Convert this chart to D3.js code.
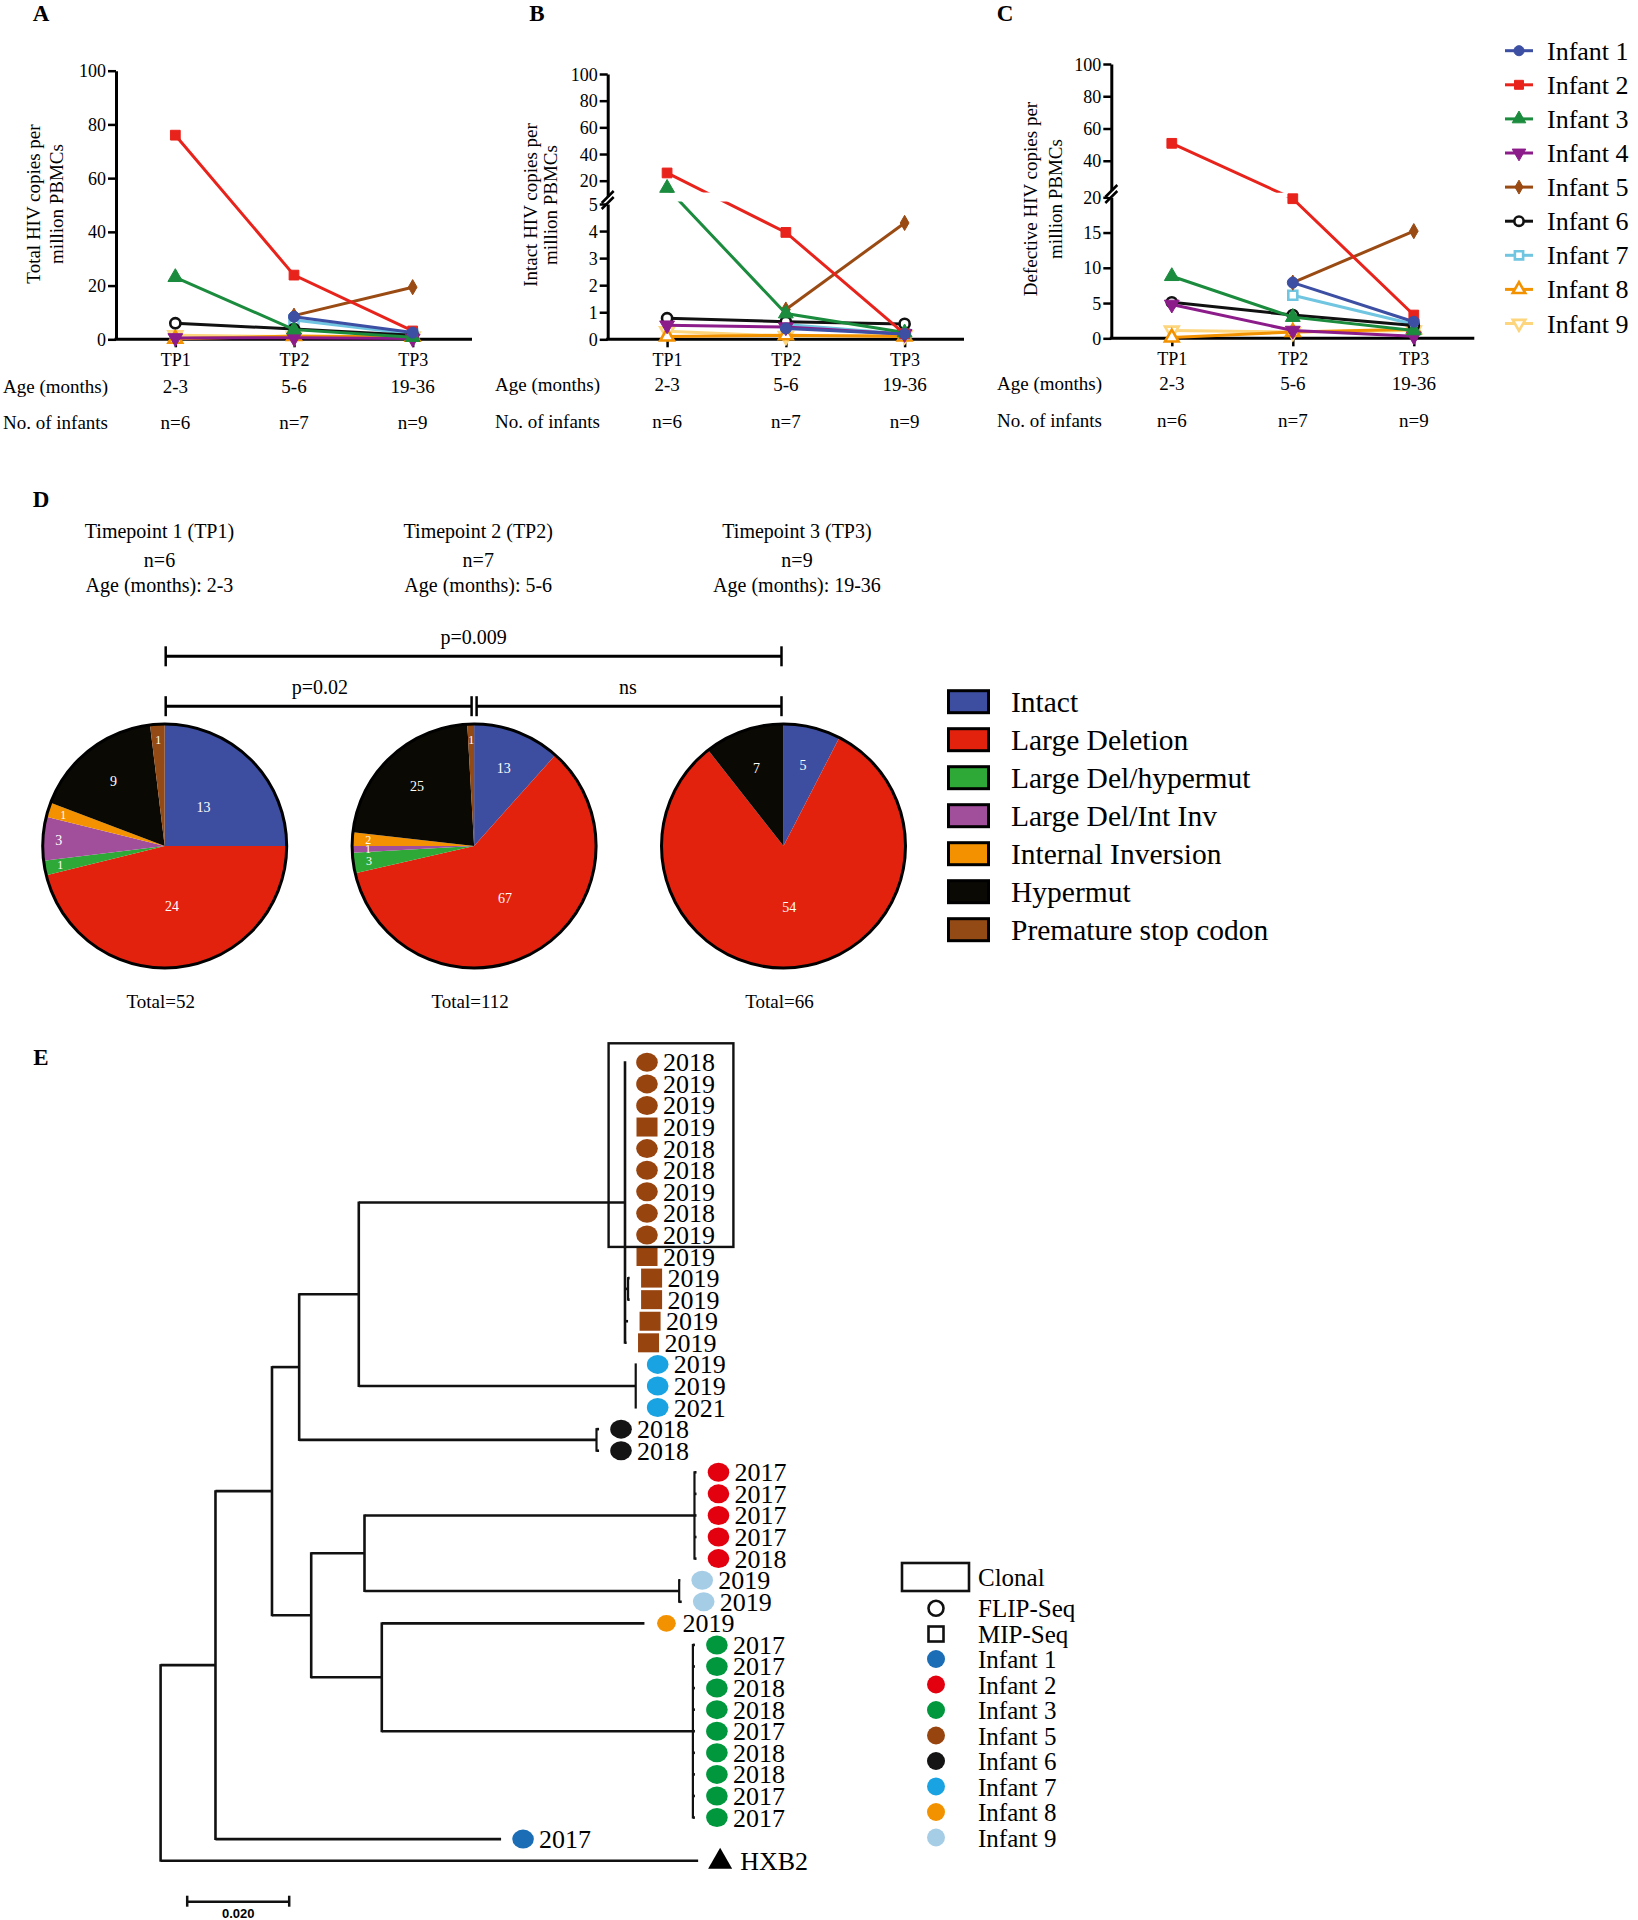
<!DOCTYPE html>
<html><head><meta charset="utf-8">
<script src="https://cdn.jsdelivr.net/npm/d3@7"></script>
<style>
body{margin:0;background:#fff}
svg{display:block}
text{font-family:"Liberation Serif","Times New Roman",serif;fill:#000}
</style>
</head><body>
<svg id="c" width="1638" height="1920"></svg>
<script>
// ---------------- DATA ----------------
const timepoints = ["TP1", "TP2", "TP3"];
const ageRanges = ["2-3", "5-6", "19-36"];
const infantCounts = ["n=6", "n=7", "n=9"];
const infants = ["Infant 1","Infant 2","Infant 3","Infant 4","Infant 5","Infant 6","Infant 7","Infant 8","Infant 9"];
const lineColors = ["#3c4fa3","#e8231c","#1b8b3d","#8c1c8a","#9a4a13","#111111","#70c5e0","#f39200","#fcd57d"];
const lineSymbols = ["circle","square","triangle","triangleDown","diamond","circle","square","triangle","triangleDown"];
const lineSymbolOpen = [false,false,false,false,false,true,true,true,true];
// copies per million PBMCs, [TP1, TP2, TP3]; null = not sampled
const totalCopies = [
  [null, 8.4, 2.5],
  [76.0, 23.9, 3.1],
  [23.1, 3.6, 0.8],
  [0.5, 0.6, 0.3],
  [null, 8.8, 19.4],
  [6.0, 3.8, 1.5],
  [null, 7.2, 2.0],
  [0.2, 1.2, 0.9],
  [1.5, 1.0, 1.0]
];
const intactCopies = [
  [null, 0.4, 0.2],
  [25.8, 3.95, 0.2],
  [14.5, 0.95, 0.25],
  [0.52, 0.45, 0.2],
  [null, 1.1, 4.3],
  [0.78, 0.65, 0.57],
  [null, 0.55, 0.2],
  [0.1, 0.15, 0.1],
  [0.3, 0.12, 0.15]
];
const defectiveCopies = [
  [null, 7.9, 2.35],
  [50.8, 19.8, 3.3],
  [8.8, 3.0, 1.1],
  [4.8, 1.1, 0.3],
  [null, 7.9, 15.2],
  [5.1, 3.3, 1.8],
  [null, 6.1, 2.0],
  [0.1, 0.9, 1.3],
  [1.1, 0.9, 1.1]
];
const totalTicks = [0, 20, 40, 60, 80, 100];
const intactTicksLow = [0, 1, 2, 3, 4, 5];
const intactTicksHigh = [20, 40, 60, 80, 100];
const defectiveTicksLow = [0, 5, 10, 15, 20];
const defectiveTicksHigh = [40, 60, 80, 100];

// Panel D
const pieCategories = ["Intact","Large Deletion","Large Del/hypermut","Large Del/Int Inv","Internal Inversion","Hypermut","Premature stop codon"];
const pieColors = ["#3d4ea0","#e3220e","#2ea836","#a24f9b","#f39100","#0b0904","#944a14"];
const tp1Counts = [13, 24, 1, 3, 1, 9, 1];
const tp2Counts = [13, 67, 3, 1, 2, 25, 1];
const tp3Counts = [5, 54, 0, 0, 0, 7, 0];
const pieTitles = ["Timepoint 1 (TP1)", "Timepoint 2 (TP2)", "Timepoint 3 (TP3)"];
const pieN = ["n=6", "n=7", "n=9"];
const pieAges = ["Age (months): 2-3", "Age (months): 5-6", "Age (months): 19-36"];
const pieTotals = ["Total=52", "Total=112", "Total=66"];
const pValues = ["p=0.009", "p=0.02", "ns"];

// Panel E (phylogenetic tree, branch lengths in substitutions/site)
const treeNewick = "((((((L0:0,L1:0,L2:0,L3:0,L4:0,L5:0,L6:0,L7:0,L8:0,L9:0,(L10:0.0003,L11:0.0003):0.0006,L12:0.0006,L13:0.0003):0.0522,(L14:0,L15:0,L16:0):0.0543):0.01169,(L17:0.0005,L18:0.0005):0.0583):0.00533,(((L19:0.0004,L20:0.0004,L21:0.0004,L22:0.0004,L23:0.0004):0.0647,(L24:0.0002,L25:0.0005):0.0617):0.01045,(L26:0.0515,(L27:0.0004,L28:0.0004,L29:0.0004,L30:0.0004,L31:0.0004,L32:0.0004,L33:0.0004,L34:0.0004,L35:0.0004):0.0610):0.01384):0.00769):0.01108,L36:0.0560):0.01076,L37:0.1054);";
const leafInfant = [
  "Infant 5","Infant 5","Infant 5","Infant 5","Infant 5","Infant 5","Infant 5","Infant 5","Infant 5","Infant 5","Infant 5","Infant 5","Infant 5","Infant 5",
  "Infant 7","Infant 7","Infant 7",
  "Infant 6","Infant 6",
  "Infant 2","Infant 2","Infant 2","Infant 2","Infant 2",
  "Infant 9","Infant 9",
  "Infant 8",
  "Infant 3","Infant 3","Infant 3","Infant 3","Infant 3","Infant 3","Infant 3","Infant 3","Infant 3",
  "Infant 1",
  "HXB2"
];
const leafMethod = [
  "FLIP","FLIP","FLIP","MIP","FLIP","FLIP","FLIP","FLIP","FLIP","MIP","MIP","MIP","MIP","MIP",
  "FLIP","FLIP","FLIP","FLIP","FLIP","FLIP","FLIP","FLIP","FLIP","FLIP","FLIP","FLIP","FLIP",
  "FLIP","FLIP","FLIP","FLIP","FLIP","FLIP","FLIP","FLIP","FLIP","FLIP","REF"
];
const leafYear = [
  "2018","2019","2019","2019","2018","2018","2019","2018","2019","2019","2019","2019","2019","2019",
  "2019","2019","2021",
  "2018","2018",
  "2017","2017","2017","2017","2018",
  "2019","2019",
  "2019",
  "2017","2017","2018","2018","2017","2018","2018","2017","2017",
  "2017",
  "HXB2"
];
const treeInfants = ["Infant 1","Infant 2","Infant 3","Infant 5","Infant 6","Infant 7","Infant 8","Infant 9"];
const treeColors = ["#1b6db6","#e3000f","#00973d","#97440f","#141414","#1aa3e2","#f39200","#a6cde6"];
const clonalRows = [0, 8];
const scaleBarValue = 0.020;

// ---------------- DRAW ----------------
const svg = d3.select("#c");
svg.append("rect").attr("width", 1638).attr("height", 1920).attr("fill", "#fff");
const defs = svg.append("defs");

function panelLabel(t, x, y) {
  svg.append("text").attr("x", x).attr("y", y).attr("text-anchor", "middle")
    .style("font-size", "23px").style("font-weight", "bold").text(t);
}

function marker(g, x, y, i, size) {
  const types = {circle: d3.symbolCircle, square: d3.symbolSquare, triangle: d3.symbolTriangle, triangleDown: d3.symbolTriangle, diamond: d3.symbolDiamond};
  const kind = lineSymbols[i];
  const open = lineSymbolOpen[i];
  let s = size;
  if (kind === "diamond") s = size * 0.7;
  if (open) s = size * 0.85;
  g.append("path")
    .attr("d", d3.symbol(types[kind], s)())
    .attr("transform", `translate(${x},${y})` + (kind === "triangleDown" ? " rotate(180)" : ""))
    .attr("fill", open ? "#fff" : lineColors[i])
    .attr("stroke", lineColors[i])
    .attr("stroke-width", open ? 2.6 : 1);
}

function linePanel(o) {
  const g = svg.append("g");
  const x = d3.scalePoint().domain(timepoints).range([o.ax, o.axEnd]).padding(0.5);
  const segs = o.segments.map(s => Object.assign({}, s, {sc: d3.scaleLinear().domain(s.domain).range(s.range)}));
  const y = v => {
    for (const s of segs) if (v >= s.domain[0] && v <= s.domain[1]) return s.sc(v);
    return segs[segs.length - 1].sc(v);
  };
  // axes
  segs.forEach(s => {
    const a = g.append("g").attr("transform", `translate(${o.ax},0)`)
      .call(d3.axisLeft(s.sc).tickValues(s.ticks).tickFormat(d3.format("d")).tickSize(8).tickSizeOuter(0).tickPadding(2));
    a.select(".domain").attr("stroke-width", 3);
    a.selectAll(".tick line").attr("stroke-width", 2.5);
    a.selectAll("text").style("font-size", "18px").attr("dy", "0.34em");
  });
  if (o.breakY) {
    const b = g.append("g");
    b.append("rect").attr("x", o.ax - 3).attr("y", o.breakY - 3).attr("width", 6).attr("height", 6).attr("fill", "#fff");
    [-3, 3].forEach(d => b.append("line")
      .attr("x1", o.ax - 6).attr("y1", o.breakY + d + 6).attr("x2", o.ax + 6).attr("y2", o.breakY + d - 6)
      .attr("stroke", "#000").attr("stroke-width", 2.5));
  }
  const xa = g.append("g").attr("transform", `translate(0,${o.y0})`)
    .call(d3.axisBottom(x).tickSize(8).tickSizeOuter(0).tickPadding(6));
  xa.select(".domain").attr("stroke-width", 3).attr("d", `M${o.ax - 1.5},0H${o.axEnd}`);
  xa.selectAll(".tick line").attr("stroke-width", 2.5);
  xa.selectAll("text").style("font-size", "18px");

  // y title
  const yt = g.append("text").attr("transform", `translate(${o.titleX[0]},${o.titleCY}) rotate(-90)`)
    .attr("text-anchor", "middle").style("font-size", "19px");
  yt.append("tspan").attr("x", 0).attr("y", 0).attr("dy", "0.35em").text(o.title[0]);
  yt.append("tspan").attr("x", 0).attr("y", o.titleX[1] - o.titleX[0]).attr("dy", "0.35em").text(o.title[1]);

  // rows under axis
  g.append("text").attr("x", o.rowX).attr("y", o.rowY[0] + 6).style("font-size", "19px").text("Age (months)");
  g.append("text").attr("x", o.rowX).attr("y", o.rowY[1] + 6).style("font-size", "19px").text("No. of infants");
  timepoints.forEach((tp, j) => {
    g.append("text").attr("x", x(tp)).attr("y", o.rowY[0] + 6).attr("text-anchor", "middle").style("font-size", "19px").text(ageRanges[j]);
    g.append("text").attr("x", x(tp)).attr("y", o.rowY[1] + 6).attr("text-anchor", "middle").style("font-size", "19px").text(infantCounts[j]);
  });

  // clip regions (break gap)
  const clipNames = [];
  const bands = o.gap ? [[0, o.gap[0]], [o.gap[1], 500]] : [[0, 500]];
  bands.forEach((b, k) => {
    const id = o.id + "clip" + k;
    defs.append("clipPath").attr("id", id).append("rect").attr("x", 0).attr("y", b[0]).attr("width", 1638).attr("height", b[1] - b[0]);
    clipNames.push(id);
  });

  const order = d3.range(infants.length).reverse();
  order.forEach(i => {
    const pts = o.values[i].map((v, j) => v == null ? null : [x(timepoints[j]), y(v)]).filter(Boolean);
    clipNames.forEach(c => g.append("path").attr("d", d3.line()(pts)).attr("clip-path", `url(#${c})`)
      .attr("fill", "none").attr("stroke", lineColors[i]).attr("stroke-width", 3));
    pts.forEach(p => marker(g, p[0], p[1], i, 95));
  });
}

// Panel A
linePanel({
  id: "A", values: totalCopies, ax: 116, axEnd: 472, y0: 339.3,
  segments: [{domain: [0, 100], range: [339.3, 70.7], ticks: totalTicks}],
  title: ["Total HIV copies per", "million PBMCs"], titleX: [33, 56.5], titleCY: 204,
  rowX: 3, rowY: [387, 423]
});
// Panel B
linePanel({
  id: "B", values: intactCopies, ax: 607.7, axEnd: 964, y0: 339.3,
  segments: [{domain: [0, 5], range: [339.3, 204], ticks: intactTicksLow},
             {domain: [5, 100], range: [200.7, 74], ticks: intactTicksHigh}],
  gap: [192.5, 201.5], breakY: 200,
  title: ["Intact HIV copies per", "million PBMCs"], titleX: [530, 550.5], titleCY: 205,
  rowX: 495, rowY: [385, 421.5]
});
// Panel C
linePanel({
  id: "C", values: defectiveCopies, ax: 1111.3, axEnd: 1474.3, y0: 338.3,
  segments: [{domain: [0, 20], range: [338.3, 197.3], ticks: defectiveTicksLow},
             {domain: [20, 100], range: [193, 64], ticks: defectiveTicksHigh}],
  gap: [192.8, 197.6], breakY: 194,
  title: ["Defective HIV copies per", "million PBMCs"], titleX: [1030, 1055], titleCY: 199,
  rowX: 997, rowY: [384, 420.5]
});
panelLabel("A", 41, 21);
panelLabel("B", 537, 21);
panelLabel("C", 1005, 21);

// Legend for A-C
(function () {
  const g = svg.append("g");
  infants.forEach((n, i) => {
    const yy = 50.7 + i * 34.1;
    g.append("line").attr("x1", 1505).attr("x2", 1533).attr("y1", yy).attr("y2", yy)
      .attr("stroke", lineColors[i]).attr("stroke-width", 3);
    marker(g, 1519, yy, i, 80);
    g.append("text").attr("x", 1547).attr("y", yy + 9).style("font-size", "26px").text(n);
  });
})();

// ---------------- Panel D ----------------
panelLabel("D", 41, 507);
(function () {
  const g = svg.append("g");
  const counts = [tp1Counts, tp2Counts, tp3Counts];
  const pieX = d3.scalePoint().domain(pieTitles).range([164.7, 783.5]);
  const titleX = d3.scalePoint().domain(pieTitles).range([159.5, 797]);
  const cy = 846, R = 122;
  pieTitles.forEach((t, k) => {
    const tx = titleX(t);
    g.append("text").attr("x", tx).attr("y", 538).attr("text-anchor", "middle").style("font-size", "20px").text(t);
    g.append("text").attr("x", tx).attr("y", 567).attr("text-anchor", "middle").style("font-size", "20px").text(pieN[k]);
    g.append("text").attr("x", tx).attr("y", 592).attr("text-anchor", "middle").style("font-size", "20px").text(pieAges[k]);
    g.append("text").attr("x", pieX(t) - 4).attr("y", 1008).attr("text-anchor", "middle").style("font-size", "19px").text(pieTotals[k]);

    const arcs = d3.pie().sort(null)(counts[k]);
    const total = d3.sum(counts[k]);
    const pg = g.append("g").attr("transform", `translate(${pieX(t)},${cy})`);
    const arc = d3.arc().innerRadius(0).outerRadius(R);
    pg.selectAll("path.s").data(arcs).enter().append("path").attr("class", "s")
      .attr("d", arc).attr("fill", (d, i) => pieColors[i]);
    pg.append("circle").attr("r", R).attr("fill", "none").attr("stroke", "#000").attr("stroke-width", 3);
    arcs.forEach((d, i) => {
      if (!d.value) return;
      const f = d.value / total;
      const rr = f >= 0.45 ? 0.5 * R : f >= 0.24 ? 0.45 * R : f >= 0.07 ? 0.68 * R : 0.87 * R;
      const c = d3.arc().innerRadius(rr).outerRadius(rr).centroid(d);
      pg.append("text").attr("x", c[0]).attr("y", c[1]).attr("dy", "0.35em").attr("text-anchor", "middle")
        .style("font-size", f < 0.03 ? "12px" : "14px").style("fill", "#fff").text(d.value);
    });
  });
  // significance brackets
  const x1 = pieX(pieTitles[0]) + 1, x2 = pieX(pieTitles[1]), x3 = pieX(pieTitles[2]) - 2;
  const bracket = (a, b, yy, label, lx) => {
    g.append("line").attr("x1", a).attr("x2", b).attr("y1", yy).attr("y2", yy).attr("stroke", "#000").attr("stroke-width", 3);
    [a, b].forEach(v => g.append("line").attr("x1", v).attr("x2", v).attr("y1", yy - 10).attr("y2", yy + 10).attr("stroke", "#000").attr("stroke-width", 2.5));
    g.append("text").attr("x", lx).attr("y", yy - 12).attr("text-anchor", "middle").style("font-size", "20px").text(label);
  };
  bracket(x1, x3, 656.3, pValues[0], (x1 + x3) / 2);
  bracket(x1, x2 - 2.5, 706.2, pValues[1], (x1 + x2) / 2);
  bracket(x2 + 2.5, x3, 706.2, pValues[2], (x2 + x3) / 2);

  // legend
  pieCategories.forEach((c, i) => {
    const yy = 701.7 + i * 38;
    g.append("rect").attr("x", 948.5).attr("y", yy - 11).attr("width", 40).attr("height", 22)
      .attr("fill", pieColors[i]).attr("stroke", "#000").attr("stroke-width", 3);
    g.append("text").attr("x", 1011).attr("y", yy + 10).style("font-size", "29.5px").text(c);
  });
})();

// ---------------- Panel E ----------------
panelLabel("E", 41, 1065);
function parseNewick(s) {
  let i = 0;
  function node() {
    const n = {name: "", len: 0, children: []};
    if (s[i] === "(") {
      i++;
      n.children.push(node());
      while (s[i] === ",") { i++; n.children.push(node()); }
      i++;
    }
    let name = "";
    while (i < s.length && !",():;".includes(s[i])) name += s[i++];
    n.name = name;
    if (s[i] === ":") {
      i++;
      let num = "";
      while (i < s.length && !",();".includes(s[i])) num += s[i++];
      n.len = +num;
    }
    if (!n.children.length) delete n.children;
    return n;
  }
  return node();
}
(function () {
  const g = svg.append("g");
  const root = d3.hierarchy(parseNewick(treeNewick));
  const xs = d3.scaleLinear().domain([0, scaleBarValue]).range([160.6, 262.6]);
  const leaves = root.leaves();
  const ys = d3.scaleLinear().domain([0, leaves.length - 1]).range([1062.3, 1860.7]);
  root.each(d => { d.dist = (d.parent ? d.parent.dist : 0) + (d.parent ? d.data.len : 0); d.px = xs(d.dist); });
  leaves.forEach((l, k) => { l.py = ys(k); l.idx = +l.data.name.slice(1); });
  root.eachAfter(d => { if (d.children) d.py = (d.children[0].py + d.children[d.children.length - 1].py) / 2; });

  root.each(d => {
    if (d.parent && d.px - d.parent.px > 0.5) {
      g.append("line").attr("x1", d.parent.px).attr("x2", d.px).attr("y1", d.py).attr("y2", d.py)
        .attr("stroke", "#111").attr("stroke-width", 2.6);
    }
    if (d.children) {
      g.append("line").attr("x1", d.px).attr("x2", d.px)
        .attr("y1", d.children[0].py - 1).attr("y2", d.children[d.children.length - 1].py + 1)
        .attr("stroke", "#111").attr("stroke-width", d.children.every(c => !c.children) ? 2.2 : 2.6);
    }
  });
  const colorOf = name => treeColors[treeInfants.indexOf(name)];
  leaves.forEach(l => {
    const k = l.idx;
    const mx = l.px + 22, my = l.py;
    if (leafMethod[k] === "REF") {
      g.append("path").attr("d", d3.symbol(d3.symbolTriangle, 250)()).attr("transform", `translate(${mx},${my + 1})`).attr("fill", "#000");
      g.append("text").attr("x", mx + 20).attr("y", my + 9).style("font-size", "26px").text(leafYear[k]);
      return;
    }
    const col = colorOf(leafInfant[k]);
    const small = leafInfant[k] === "Infant 8";
    if (leafMethod[k] === "MIP") {
      g.append("rect").attr("x", mx - 10.5).attr("y", my - 9.5).attr("width", 21).attr("height", 19).attr("fill", col);
    } else {
      g.append("ellipse").attr("cx", mx).attr("cy", my).attr("rx", small ? 9.4 : 10.8).attr("ry", small ? 8.3 : 9.5).attr("fill", col);
    }
    g.append("text").attr("x", mx + 16).attr("y", my + 9).style("font-size", "26px").text(leafYear[k]);
  });
  // clonal box
  g.append("rect").attr("x", 608.6).attr("y", ys(clonalRows[0]) - 19).attr("width", 124.8)
    .attr("height", ys(clonalRows[1]) - ys(clonalRows[0]) + 31)
    .attr("fill", "none").attr("stroke", "#111").attr("stroke-width", 2.4);
  // scale bar
  const sb0 = 187.2, sb1 = sb0 + (xs(scaleBarValue) - xs(0)), sy = 1901.7;
  g.append("line").attr("x1", sb0).attr("x2", sb1).attr("y1", sy).attr("y2", sy).attr("stroke", "#111").attr("stroke-width", 2.5);
  [sb0, sb1].forEach(v => g.append("line").attr("x1", v).attr("x2", v).attr("y1", sy - 6).attr("y2", sy + 5).attr("stroke", "#111").attr("stroke-width", 2.5));
  g.append("text").attr("x", (sb0 + sb1) / 2).attr("y", 1918).attr("text-anchor", "middle")
    .style("font-family", "'Liberation Sans',Arial,sans-serif").style("font-weight", "bold").style("font-size", "13px")
    .text(scaleBarValue.toFixed(3));

  // legend E
  const lg = svg.append("g");
  lg.append("rect").attr("x", 902).attr("y", 1563).attr("width", 67).attr("height", 28)
    .attr("fill", "none").attr("stroke", "#111").attr("stroke-width", 2.6);
  lg.append("text").attr("x", 978).attr("y", 1586).style("font-size", "25px").text("Clonal");
  lg.append("circle").attr("cx", 936).attr("cy", 1608.3).attr("r", 7.5).attr("fill", "none").attr("stroke", "#111").attr("stroke-width", 2.6);
  lg.append("text").attr("x", 978).attr("y", 1617).style("font-size", "25px").text("FLIP-Seq");
  lg.append("rect").attr("x", 928.5).attr("y", 1626.5).attr("width", 15).attr("height", 15).attr("fill", "none").attr("stroke", "#111").attr("stroke-width", 2.6);
  lg.append("text").attr("x", 978).attr("y", 1643).style("font-size", "25px").text("MIP-Seq");
  treeInfants.forEach((n, i) => {
    const yy = 1659 + i * 25.5;
    lg.append("circle").attr("cx", 936).attr("cy", yy).attr("r", 9).attr("fill", treeColors[i]);
    lg.append("text").attr("x", 978).attr("y", yy + 9).style("font-size", "25px").text(n);
  });
})();
</script>
</body></html>
